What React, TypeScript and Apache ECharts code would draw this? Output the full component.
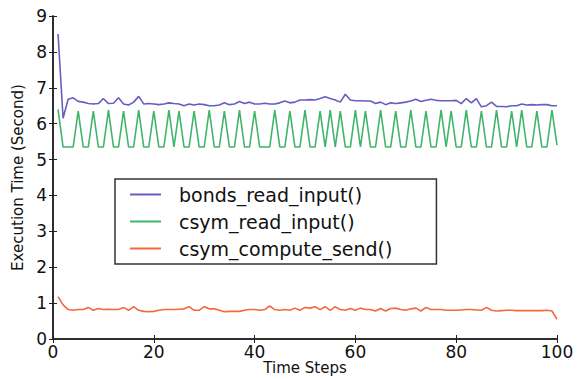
import React, { useEffect, useRef } from "react";
import * as echarts from "echarts";

const steps: number[] = Array.from({ length: 100 }, (_, i) => i + 1);

const bondsReadInput: number[] = [
  8.5, 6.15, 6.68, 6.72, 6.62, 6.6, 6.56, 6.55, 6.56, 6.7,
  6.56, 6.57, 6.72, 6.55, 6.52, 6.6, 6.76, 6.55, 6.56, 6.55,
  6.53, 6.55, 6.58, 6.56, 6.55, 6.5, 6.55, 6.52, 6.55, 6.53,
  6.5, 6.5, 6.52, 6.58, 6.53, 6.55, 6.62, 6.56, 6.6, 6.55,
  6.55, 6.57, 6.55, 6.55, 6.58, 6.63, 6.58, 6.6, 6.66, 6.66,
  6.67, 6.66, 6.7, 6.75, 6.7, 6.66, 6.6, 6.82, 6.66, 6.64,
  6.64, 6.63, 6.63, 6.56, 6.6, 6.53, 6.58, 6.56, 6.58, 6.6,
  6.63, 6.68, 6.62, 6.65, 6.68, 6.65, 6.64, 6.64, 6.64, 6.65,
  6.56, 6.7, 6.58, 6.7, 6.47, 6.5, 6.6, 6.48, 6.48, 6.47,
  6.5, 6.5, 6.55, 6.52, 6.53, 6.52, 6.53, 6.53, 6.5, 6.5,
];

const csymReadInput: number[] = [
  6.4, 5.35, 5.35, 5.35, 6.35, 5.35, 5.35, 6.35, 5.35, 5.35,
  6.38, 5.35, 5.35, 6.35, 5.35, 5.35, 6.38, 5.35, 5.35, 6.35,
  5.35, 5.35, 6.38, 5.35, 6.35, 5.35, 5.35, 6.35, 5.35, 5.35,
  6.38, 5.35, 5.35, 6.35, 5.35, 5.35, 6.38, 5.35, 5.35, 6.35,
  5.35, 5.35, 5.35, 6.38, 5.35, 5.35, 6.35, 5.35, 5.35, 6.38,
  5.35, 5.35, 6.35, 5.35, 6.38, 5.35, 6.35, 5.35, 5.35, 6.38,
  5.35, 6.35, 5.35, 5.35, 6.38, 5.35, 5.35, 6.35, 5.35, 5.35,
  6.38, 5.35, 5.35, 6.35, 5.35, 5.35, 6.38, 5.35, 6.35, 5.35,
  5.35, 6.38, 5.35, 5.35, 6.35, 5.35, 5.35, 6.38, 5.35, 5.35,
  6.35, 5.35, 6.38, 5.35, 5.35, 6.35, 5.35, 5.35, 6.38, 5.4,
];

const csymComputeSend: number[] = [
  1.18, 0.95, 0.82, 0.8, 0.82, 0.82, 0.88, 0.8, 0.85, 0.82,
  0.83, 0.82, 0.82, 0.88, 0.8, 0.9, 0.8, 0.77, 0.76, 0.77,
  0.8, 0.82, 0.82, 0.82, 0.83, 0.84, 0.9, 0.8, 0.8, 0.9,
  0.84, 0.84, 0.8, 0.76, 0.77, 0.77, 0.77, 0.8, 0.82, 0.82,
  0.8, 0.82, 0.92, 0.82, 0.8, 0.82, 0.8, 0.86, 0.8, 0.88,
  0.86, 0.9, 0.82, 0.9, 0.8, 0.9, 0.82, 0.8, 0.85, 0.8,
  0.86, 0.82, 0.82, 0.78, 0.85, 0.78, 0.85, 0.86, 0.82, 0.8,
  0.84, 0.86, 0.78, 0.88, 0.82, 0.82, 0.82, 0.8, 0.8, 0.8,
  0.81, 0.82, 0.82, 0.81, 0.8, 0.88, 0.8, 0.78, 0.79, 0.8,
  0.8, 0.79, 0.79, 0.79, 0.79, 0.79, 0.79, 0.8, 0.78, 0.55,
];

const seriesNames: string[] = ["bonds_read_input()", "csym_read_input()", "csym_compute_send()"];
const seriesColors: string[] = ["#6a5cc0", "#3fb56a", "#f26a3c"];
const xTicks: number[] = [0, 20, 40, 60, 80, 100];
const yTicks: number[] = [0, 1, 2, 3, 4, 5, 6, 7, 8, 9];
const xTitle = "Time Steps";
const yTitle = "Execution Time (Second)";

const FONT = "DejaVu Sans";

export default function App() {
  const ref = useRef<HTMLDivElement>(null);
  useEffect(() => {
    if (!ref.current) return;
    const chart = echarts.init(ref.current, undefined, { renderer: "svg" });
    const allValues = [bondsReadInput, csymReadInput, csymComputeSend];
    const frameLine = { show: true, lineStyle: { color: "#222", width: 1.5 } };
    const tickIn = { show: true, inside: true, length: 4, lineStyle: { color: "#222", width: 1 } };
    chart.setOption({
      animation: false,
      backgroundColor: "#fff",
      grid: { left: 53, right: 21, top: 16, bottom: 40, containLabel: false, outerBoundsMode: "none" },
      graphic: [
        {
          type: "text",
          x: 305,
          y: 368,
          style: {
            text: xTitle,
            fontFamily: FONT,
            fontSize: 15,
            fill: "#111",
            align: "center",
            verticalAlign: "middle",
          },
        },
      ],
      legend: {
        left: 115,
        top: 179,
        orient: "vertical",
        data: seriesNames.map((n) => ({ name: n, icon: "rect" })),
        itemWidth: 31,
        itemHeight: 2,
        itemGap: 6,
        padding: [5, 44, 5, 15],
        borderColor: "#333",
        borderWidth: 1.5,
        borderRadius: 0,
        backgroundColor: "#fff",
        textStyle: { fontFamily: FONT, fontSize: 19, color: "#111", padding: [0, 0, 0, 13], lineHeight: 21 },
      },
      xAxis: [
        {
          type: "value",
          min: xTicks[0],
          max: xTicks[xTicks.length - 1],
          interval: 20,
          axisLine: frameLine,
          axisTick: tickIn,
          axisLabel: { fontFamily: FONT, fontSize: 17, color: "#111", margin: 4 },
          splitLine: { show: false },
        },
        {
          type: "value",
          position: "top",
          min: xTicks[0],
          max: xTicks[xTicks.length - 1],
          interval: 20,
          axisLine: frameLine,
          axisTick: tickIn,
          axisLabel: { show: false },
          splitLine: { show: false },
        },
      ],
      yAxis: [
        {
          type: "value",
          min: yTicks[0],
          max: yTicks[yTicks.length - 1],
          interval: 1,
          name: yTitle,
          nameLocation: "middle",
          nameGap: 28,
          nameTextStyle: { fontFamily: FONT, fontSize: 15, color: "#111" },
          axisLine: frameLine,
          axisTick: tickIn,
          axisLabel: { fontFamily: FONT, fontSize: 17, color: "#111", margin: 6 },
          splitLine: { show: false },
        },
        {
          type: "value",
          position: "right",
          min: yTicks[0],
          max: yTicks[yTicks.length - 1],
          interval: 1,
          axisLine: frameLine,
          axisTick: tickIn,
          axisLabel: { show: false },
          splitLine: { show: false },
        },
      ],
      series: seriesNames.map((name, k) => ({
        name,
        type: "line",
        xAxisIndex: 0,
        yAxisIndex: 0,
        symbol: "none",
        data: steps.map((s, i) => [s, allValues[k][i]]),
        lineStyle: { color: seriesColors[k], width: 1.6 },
        itemStyle: { color: seriesColors[k] },
      })),
    });
    return () => chart.dispose();
  }, []);
  return (
    <div
      ref={ref}
      style={{ position: "fixed", left: 0, top: 0, width: 578, height: 379, background: "#fff" }}
    />
  );
}
